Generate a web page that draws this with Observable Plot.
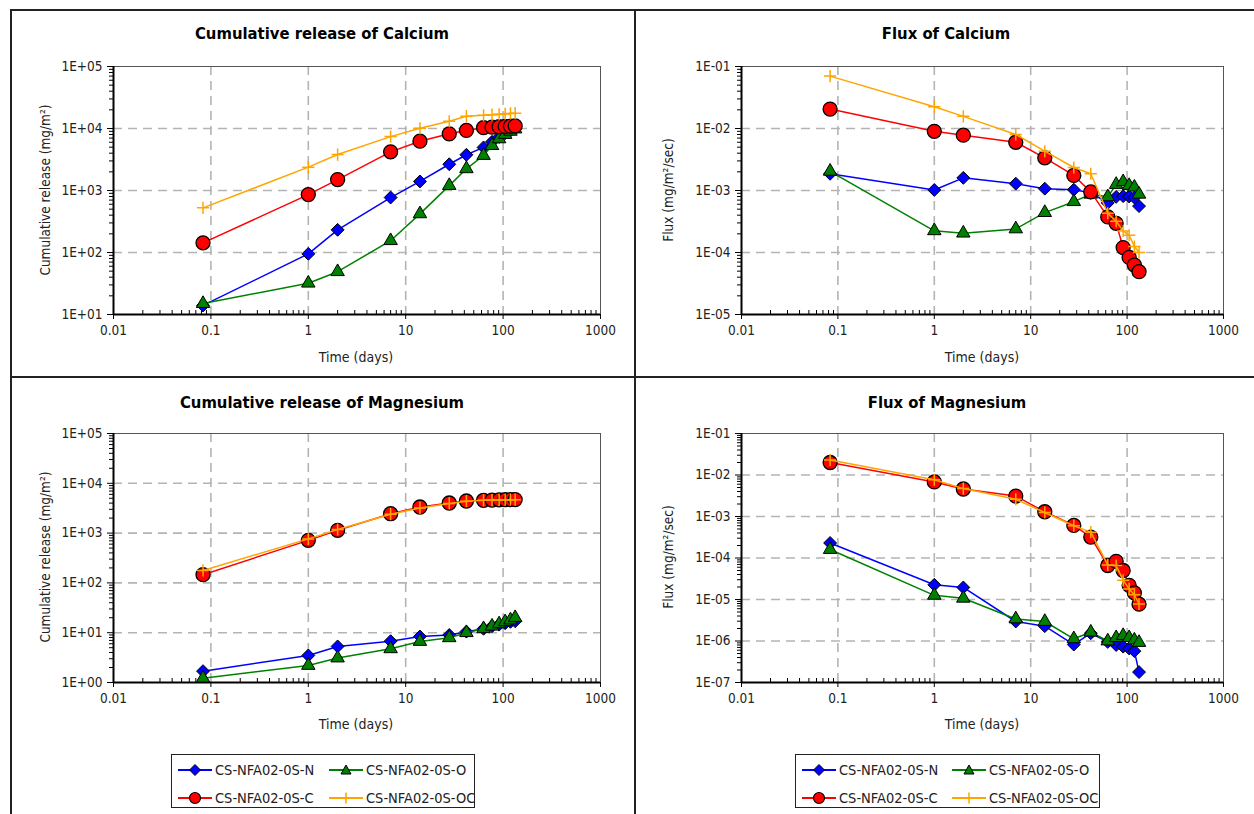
<!DOCTYPE html>
<html><head><meta charset="utf-8">
<script src="https://cdn.jsdelivr.net/npm/d3@7"></script>
<script src="https://cdn.jsdelivr.net/npm/@observablehq/plot@0.6"></script>
<style>
html,body{margin:0;padding:0;background:#fff;}
#root{position:relative;width:1254px;height:814px;overflow:hidden;font-family:"DejaVu Sans Condensed","DejaVu Sans",sans-serif;color:#000;}
.abs{position:absolute;}
.title{font-weight:bold;font-size:16.5px;white-space:nowrap;transform:translate(-50%,-50%);}
.xlab{font-size:14px;white-space:nowrap;transform:translate(-50%,-50%);color:#222;}
.ylab{font-size:13.5px;white-space:nowrap;transform:translate(-50%,-50%) rotate(-90deg);color:#222;}
.hline{height:2px;background:#222;}
.vline{width:2px;background:#222;}
.legend{border:1.5px solid #222;box-sizing:border-box;overflow:hidden;background:#fff;}
.legend .item{position:absolute;display:flex;align-items:center;font-size:14.5px;white-space:nowrap;color:#222;}
.legend svg{display:block;margin-right:3px;}
</style></head><body><div id="root"></div>
<script>
// ---------------- data ----------------
const days = [0.083, 1, 2, 7, 14, 28, 42, 63, 77, 91, 105, 119, 133];
const seriesNames = ["CS-NFA02-0S-N", "CS-NFA02-0S-O", "CS-NFA02-0S-C", "CS-NFA02-0S-OC"];
const seriesColors = ["#0000ff", "#008000", "#ff0000", "#ffa500"];
const seriesSymbols = ["diamond2", "triangle", "circle", "plus"];

const caCumN  = [14, 95, 232, 770, 1400, 2650, 3770, 4950, 6100, 7300, 8400, 9300, 10100];
const caCumO  = [15, 32, 49, 155, 420, 1200, 2240, 3670, 5300, 6800, 8000, 9000, 9800];
const caCumC  = [143, 860, 1500, 4200, 6240, 8200, 9300, 10300, 10500, 10700, 10800, 10900, 11000];
const caCumOC = [525, 2380, 3800, 7400, 10100, 13100, 15800, 16300, 16700, 17000, 17300, 17500, 17700];

const caFluxN  = [0.00186, 0.00102, 0.0016, 0.00129, 0.00107, 0.00103, 0.00092, 0.00063, 0.00079, 0.00081, 0.0008, 0.00077, 0.00056];
const caFluxO  = [0.00204, 0.000224, 0.000205, 0.00024, 0.00044, 0.00066, 0.00087, 0.00079, 0.00125, 0.00138, 0.0012, 0.00113, 0.00087];
const caFluxC  = [0.0206, 0.009, 0.0078, 0.006, 0.00337, 0.00175, 0.00095, 0.000375, 0.000295, 0.00012, 0.0000832, 0.0000628, 0.000049];
const caFluxOC = [0.07, 0.0225, 0.0157, 0.008, 0.0043, 0.00235, 0.00186, 0.00043, 0.00032, 0.000222, 0.00019, 0.000125, 0.0001];

const mgCumN  = [1.69, 3.49, 5.3, 6.76, 8.4, 9.0, 10.5, 12, 13.5, 14.5, 15.5, 16.5, 17];
const mgCumO  = [1.22, 2.2, 3.1, 4.75, 6.67, 7.9, 10, 12, 13.5, 15, 16.5, 18, 20];
const mgCumC  = [146, 715, 1135, 2450, 3340, 4020, 4410, 4560, 4600, 4650, 4680, 4700, 4720];
const mgCumOC = [178, 765, 1180, 2400, 3200, 3950, 4380, 4550, 4600, 4640, 4670, 4690, 4700];

const mgFluxN  = [0.00023, 0.0000226, 0.0000195, 2.95e-6, 2.28e-6, 8.2e-7, 1.54e-6, 9.5e-7, 8e-7, 7.3e-7, 6.6e-7, 5.7e-7, 1.78e-7];
const mgFluxO  = [0.00016, 1.26e-5, 1.07e-5, 3.4e-6, 2.95e-6, 1.13e-6, 1.63e-6, 1.0e-6, 1.2e-6, 1.35e-6, 1.2e-6, 1.05e-6, 9.2e-7];
const mgFluxC  = [0.02, 0.0068, 0.0046, 0.0031, 0.0013, 0.00061, 0.00032, 0.000066, 0.000083, 0.00005, 0.000022, 0.0000145, 0.0000077];
const mgFluxOC = [0.023, 0.0077, 0.0047, 0.0026, 0.00125, 0.0006, 0.00042, 0.000068, 0.000066, 0.000029, 0.000018, 0.000013, 0.0000078];

const xTicks = [0.01, 0.1, 1, 10, 100, 1000];
const xTickLabels = ["0.01", "0.1", "1", "10", "100", "1000"];
const yTicksCumCa = [1e1, 1e2, 1e3, 1e4, 1e5];
const yLabelsCumCa = ["1E+01", "1E+02", "1E+03", "1E+04", "1E+05"];
const yTicksFluxCa = [1e-5, 1e-4, 1e-3, 1e-2, 1e-1];
const yLabelsFluxCa = ["1E-05", "1E-04", "1E-03", "1E-02", "1E-01"];
const yTicksCumMg = [1e0, 1e1, 1e2, 1e3, 1e4, 1e5];
const yLabelsCumMg = ["1E+00", "1E+01", "1E+02", "1E+03", "1E+04", "1E+05"];
const yTicksFluxMg = [1e-7, 1e-6, 1e-5, 1e-4, 1e-3, 1e-2, 1e-1];
const yLabelsFluxMg = ["1E-07", "1E-06", "1E-05", "1E-04", "1E-03", "1E-02", "1E-01"];

const titles = ["Cumulative release of Calcium", "Flux of Calcium", "Cumulative release of Magnesium", "Flux of Magnesium"];
const yAxisTitles = ["Cumulative release (mg/m²)", "Flux (mg/m²/sec)", "Cumulative release (mg/m²)", "Flux (mg/m²/sec)"];
const xAxisTitle = "Time (days)";

// ---------------- layout ----------------
const root = document.getElementById("root");
const FONT = '"DejaVu Sans Condensed","DejaVu Sans",sans-serif';

function div(cls, left, top, html, extra) {
  const d = document.createElement("div");
  d.className = "abs " + cls;
  d.style.left = left + "px"; d.style.top = top + "px";
  if (html != null) d.textContent = html;
  if (extra) Object.assign(d.style, extra);
  root.appendChild(d);
  return d;
}

function minorTicks(lo, hi) {
  const out = [];
  for (let e = Math.round(Math.log10(lo)); e < Math.round(Math.log10(hi)); e++)
    for (let m = 2; m <= 9; m++) out.push(m * Math.pow(10, e));
  return out;
}

const panels = [
  {area: [113, 66, 600, 314], yDomain: [1e1, 1e5], yTicks: yTicksCumCa, yLabels: yLabelsCumCa,
   series: [caCumN, caCumO, caCumC, caCumOC], title: [322, 33], ylab: [45, 190], xlab: [356, 357]},
  {area: [741, 66, 1223, 314], yDomain: [1e-5, 1e-1], yTicks: yTicksFluxCa, yLabels: yLabelsFluxCa,
   series: [caFluxN, caFluxO, caFluxC, caFluxOC], title: [946, 33], ylab: [668, 190], xlab: [982, 357]},
  {area: [113, 433, 600, 682], yDomain: [1e0, 1e5], yTicks: yTicksCumMg, yLabels: yLabelsCumMg,
   series: [mgCumN, mgCumO, mgCumC, mgCumOC], title: [322, 402], ylab: [45, 557], xlab: [356, 724]},
  {area: [741, 433, 1223, 682], yDomain: [1e-7, 1e-1], yTicks: yTicksFluxMg, yLabels: yLabelsFluxMg,
   series: [mgFluxN, mgFluxO, mgFluxC, mgFluxOC], title: [947, 402], ylab: [668, 557], xlab: [982, 724]}
];

const dotStyle = [
  {symbol: "diamond2", r: 5.8, fill: seriesColors[0], stroke: "#000", strokeWidth: 1},
  {symbol: "triangle", r: 5, fill: seriesColors[1], stroke: "#000", strokeWidth: 1},
  {symbol: "circle", r: 7, fill: seriesColors[2], stroke: "#000", strokeWidth: 1.3},
  {symbol: "plus", r: 4, fill: "none", stroke: seriesColors[3], strokeWidth: 1.5}
];

panels.forEach((p, pi) => {
  const [x0, y0, x1, y1] = p.area;
  const mL = 95, mR = 30, mT = 16, mB = 36;
  const W = (x1 - x0) + mL + mR, H = (y1 - y0) + mT + mB;
  const plotH = y1 - y0;
  const xLabMap = new Map(xTicks.map((t, i) => [t, xTickLabels[i]]));
  const yLabMap = new Map(p.yTicks.map((t, i) => [t, p.yLabels[i]]));
  const gridYTicks = p.yTicks.slice(1, -1);
  const marks = [
    Plot.gridX({ticks: [0.1, 1, 10, 100], stroke: "#b4b4b4", strokeOpacity: 1, strokeWidth: 1.6, strokeDasharray: "9,6"}),
    Plot.gridY({ticks: gridYTicks, stroke: "#b4b4b4", strokeOpacity: 1, strokeWidth: 1.6, strokeDasharray: "9,6"}),
    Plot.frame({stroke: "#555", strokeWidth: 1}),
    Plot.ruleX([0.01], {stroke: "#000", strokeWidth: 2}),
    Plot.ruleY([p.yDomain[0]], {stroke: "#000", strokeWidth: 2}),
    Plot.tickX(minorTicks(0.01, 1000), {stroke: "#000", insetTop: plotH - 4}),
    Plot.axisX({ticks: xTicks, tickFormat: d => xLabMap.get(d), tickSize: 5, tickPadding: 6, label: null, fontSize: 13.5, fill: "#222"}),
    Plot.axisY({ticks: minorTicks(p.yDomain[0], p.yDomain[1]), tickFormat: () => "", tickSize: 4, label: null}),
    Plot.axisY({ticks: p.yTicks, tickFormat: d => yLabMap.get(d), tickSize: 6, tickPadding: 5, label: null, fontSize: 13.5, fill: "#222"})
  ];
  p.series.forEach((vals, si) => {
    const data = days.map((t, i) => ({t, v: vals[i]}));
    marks.push(Plot.line(data, {x: "t", y: "v", stroke: seriesColors[si], strokeWidth: 1.5}));
    marks.push(Plot.dot(data, {x: "t", y: "v", ...dotStyle[si]}));
  });
  const svg = Plot.plot({
    width: W, height: H,
    marginLeft: mL, marginRight: mR, marginTop: mT, marginBottom: mB,
    x: {type: "log", domain: [0.01, 1000]},
    y: {type: "log", domain: p.yDomain},
    style: {fontFamily: FONT, fontSize: "13.5px", color: "#000", background: "none", overflow: "visible"},
    marks
  });
  svg.style.position = "absolute";
  svg.style.left = (x0 - mL) + "px";
  svg.style.top = (y0 - mT) + "px";
  root.appendChild(svg);

  div("title", p.title[0], p.title[1], titles[pi]);
  div("ylab", p.ylab[0], p.ylab[1], yAxisTitles[pi]);
  div("xlab", p.xlab[0], p.xlab[1], xAxisTitle);
});

// panel borders
div("hline", 10, 9, null, {width: "1244px"});
div("hline", 10, 376, null, {width: "1244px"});
div("vline", 10, 9, null, {height: "805px"});
div("vline", 634, 9, null, {height: "805px"});

// legends
function markerSvg(si) {
  const c = seriesColors[si];
  let m = "";
  if (si === 0) m = `<path d="M17,1.5L22.5,7L17,12.5L11.5,7Z" fill="${c}" stroke="#000" stroke-width="1"/>`;
  if (si === 1) m = `<path d="M17,2L22,11L12,11Z" fill="${c}" stroke="#000" stroke-width="1"/>`;
  if (si === 2) m = `<circle cx="17" cy="7" r="5.5" fill="${c}" stroke="#000" stroke-width="1.2"/>`;
  if (si === 3) m = `<path d="M17,1.5V12.5M11.5,7H22.5" stroke="${c}" stroke-width="1.5"/>`;
  return `<svg width="34" height="14"><line x1="0" y1="7" x2="34" y2="7" stroke="${c}" stroke-width="2"/>${m}</svg>`;
}
function legend(left, top, w, h, col2) {
  const box = div("legend", left, top, null, {width: w + "px", height: h + "px"});
  const pos = [[6, 7], [col2, 7], [6, 35], [col2, 35]];
  seriesNames.forEach((name, si) => {
    const it = document.createElement("div");
    it.className = "item";
    it.style.left = pos[si][0] + "px"; it.style.top = pos[si][1] + "px";
    it.innerHTML = markerSvg(si) + `<span>${name}</span>`;
    box.appendChild(it);
  });
}
legend(171, 754, 304, 54, 157);
legend(795, 754, 305, 54, 156);
</script></body></html>
